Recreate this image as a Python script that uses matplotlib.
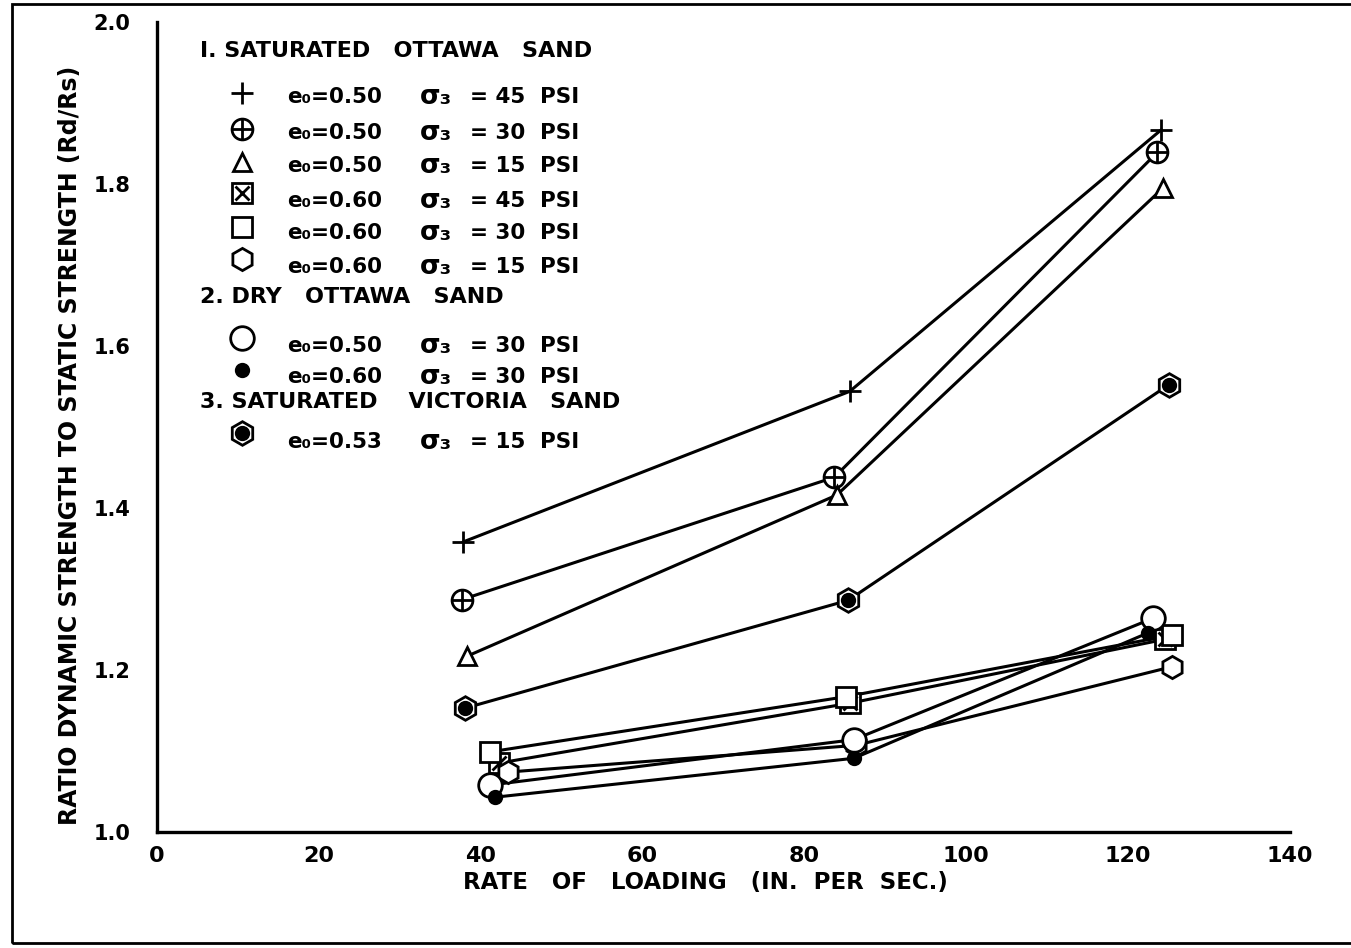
import matplotlib
matplotlib.use("Agg")
import matplotlib.pyplot as plt
from matplotlib.patches import Rectangle

plt.rcParams["font.family"] = ["DejaVu Sans"]
plt.rcParams["font.weight"] = "bold"

# ── Data ─────────────────────────────────────────────────────────────────────
plus_x  = [37.8, 85.6, 124.1]
plus_y  = [1.358, 1.544, 1.867]
oplus_x = [37.7, 83.7, 123.6]
oplus_y = [1.287, 1.438, 1.839]
tri_x   = [38.3, 84.0, 124.3]
tri_y   = [1.217, 1.416, 1.795]
sqx_x   = [42.2, 85.6, 124.6]
sqx_y   = [1.085, 1.159, 1.238]
sq_x    = [41.2, 85.1, 125.4]
sq_y    = [1.099, 1.167, 1.243]
hex_x   = [43.4, 86.4, 125.4]
hex_y   = [1.074, 1.107, 1.204]
circ_x  = [41.2, 86.1, 123.1]
circ_y  = [1.058, 1.114, 1.264]
dot_x   = [41.8, 86.1, 122.5]
dot_y   = [1.043, 1.091, 1.246]
vic_x   = [38.1, 85.4, 125.0]
vic_y   = [1.153, 1.286, 1.552]

x_ticks = [0, 20, 40, 60, 80, 100, 120, 140]
y_ticks = [1.0, 1.2, 1.4, 1.6, 1.8, 2.0]

W, H = 1351, 948
LW = 2.2
MEW = 2.0


def fx(px):
    return px / W


def fy(py):
    return 1 - py / H


def marker(ax, x, y, kind, **kw):
    """draw one marker style (possibly composite) at x, y"""
    base = dict(linestyle="none", color="black", mew=MEW, zorder=4, **kw)
    if kind == "plus":
        ax.plot(x, y, marker="+", ms=16, **base)
    elif kind == "oplus":
        ax.plot(x, y, marker="o", ms=15, mfc="white", **base)
        ax.plot(x, y, marker="+", ms=15, **base)
    elif kind == "tri":
        ax.plot(x, y, marker="^", ms=13, mfc="white", **base)
    elif kind == "sqx":
        ax.plot(x, y, marker="s", ms=14, mfc="white", **base)
        ax.plot(x, y, marker="x", ms=10, **base)
    elif kind == "sq":
        ax.plot(x, y, marker="s", ms=14, mfc="white", **base)
    elif kind == "hex":
        ax.plot(x, y, marker="h", ms=16, mfc="white", **base)
    elif kind == "circ":
        ax.plot(x, y, marker="o", ms=17, mfc="white", **base)
    elif kind == "dot":
        ax.plot(x, y, marker="o", ms=9, mfc="black", **base)
    elif kind == "vic":
        ax.plot(x, y, marker="h", ms=17, mfc="white", **base)
        ax.plot(x, y, marker="o", ms=9, mfc="black", **base)


SERIES = [
    (plus_x, plus_y, "plus"),
    (oplus_x, oplus_y, "oplus"),
    (tri_x, tri_y, "tri"),
    (sqx_x, sqx_y, "sqx"),
    (sq_x, sq_y, "sq"),
    (hex_x, hex_y, "hex"),
    (circ_x, circ_y, "circ"),
    (dot_x, dot_y, "dot"),
    (vic_x, vic_y, "vic"),
]

fig = plt.figure(figsize=(W / 100, H / 100), dpi=100)
fig.patch.set_facecolor("white")
ax = fig.add_axes([fx(157), fy(832), fx(1290) - fx(157), fy(22) - fy(832)])

for xs, ys, kind in SERIES:
    ax.plot(xs, ys, color="black", lw=LW, zorder=2, solid_capstyle="round")
    marker(ax, xs, ys, kind)

ax.set_xlim(0, 140)
ax.set_ylim(1.0, 2.0)
ax.spines[["top", "right"]].set_visible(False)
for s in ("left", "bottom"):
    ax.spines[s].set_linewidth(2.4)
ax.set_xticks(x_ticks)
ax.set_yticks(y_ticks)
ax.set_xticklabels([str(v) for v in x_ticks], fontsize=16, fontweight="bold")
ax.set_yticklabels([f"{v:.1f}" for v in y_ticks], fontsize=15, fontweight="bold")
ax.tick_params(length=0, pad=10)
ax.tick_params(axis="y", pad=19)

fig.text(fx(705), fy(882), "RATE   OF   LOADING   (IN.  PER  SEC.)",
         ha="center", va="center", fontsize=16.5, fontweight="bold")
fig.text(fx(70), fy(445), "RATIO DYNAMIC STRENGTH TO STATIC STRENGTH (Rd/Rs)",
         ha="center", va="center", rotation=90, fontsize=17, fontweight="bold")

# ── Legend (hand laid out like the original) ─────────────────────────────────
HEADERS = [
    (51,  "I. SATURATED   OTTAWA   SAND"),
    (297, "2. DRY   OTTAWA   SAND"),
    (402, "3. SATURATED    VICTORIA   SAND"),
]
ROWS = [
    (93,  97,  "plus",  "0.50", "45"),
    (129, 133, "oplus", "0.50", "30"),
    (162, 166, "tri",   "0.50", "15"),
    (193, 201, "sqx",   "0.60", "45"),
    (227, 233, "sq",    "0.60", "30"),
    (259, 267, "hex",   "0.60", "15"),
    (338, 346, "circ",  "0.50", "30"),
    (370, 377, "dot",   "0.60", "30"),
    (433, 442, "vic",   "0.53", "15"),
]

for py, txt in HEADERS:
    fig.text(fx(200), fy(py), txt, ha="left", va="center",
             fontsize=16, fontweight="bold")

for mpy, tpy, kind, e0, s3 in ROWS:
    marker(ax, fx(242), fy(mpy), kind, transform=fig.transFigure, clip_on=False)
    fig.text(fx(287), fy(tpy), f"e\u2080={e0}", ha="left", va="center",
             fontsize=15.5, fontweight="bold")
    fig.text(fx(420), fy(tpy), "\u03c3\u2083", ha="left", va="center",
             fontsize=19, fontweight="bold")
    fig.text(fx(470), fy(tpy), f"= {s3}", ha="left", va="center",
             fontsize=15.5, fontweight="bold")
    fig.text(fx(540), fy(tpy), "PSI", ha="left", va="center",
             fontsize=15.5, fontweight="bold")

# frame round the whole drawing
fig.add_artist(Rectangle((fx(12), fy(943)), fx(1360) - fx(12), fy(4) - fy(943),
                         transform=fig.transFigure, fill=False,
                         edgecolor="black", lw=2.0))

fig.savefig("out.png", dpi=100, facecolor="white")
